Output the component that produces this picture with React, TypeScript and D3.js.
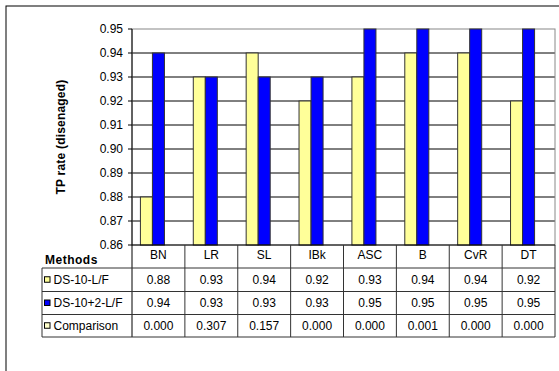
import React from 'react';
import * as d3 from 'd3';

const methods = ['BN', 'LR', 'SL', 'IBk', 'ASC', 'B', 'CvR', 'DT'];
const seriesNames = ['DS-10-L/F', 'DS-10+2-L/F', 'Comparison'];
const ds10 = [0.88, 0.93, 0.94, 0.92, 0.93, 0.94, 0.94, 0.92];
const ds10plus2 = [0.94, 0.93, 0.93, 0.93, 0.95, 0.95, 0.95, 0.95];
const comparison = [0.0, 0.307, 0.157, 0.0, 0.0, 0.001, 0.0, 0.0];
const yTicks = [0.86, 0.87, 0.88, 0.89, 0.9, 0.91, 0.92, 0.93, 0.94, 0.95];

const seriesValues = [ds10, ds10plus2, comparison];
const seriesColors = ['#ffff99', '#0000ff', '#ffffcc'];
const seriesDigits = [2, 2, 3];

const W = 559;
const H = 371;
const font = 'Arial, "Liberation Sans", sans-serif';

const App = () => {
  const left = 132;
  const right = 555;
  const top = 29;
  const bottom = 245;
  const tableLeft = 42;
  const rowEdges = [bottom, 268, 291.5, 314.5, 337];

  const y = d3.scaleLinear().domain([0.86, 0.95]).range([bottom, top]);
  const x = d3.scaleBand().domain(methods).range([left, right]);
  const xs = d3
    .scaleBand()
    .domain(seriesNames)
    .range([0, x.bandwidth()])
    .paddingOuter(0.7);

  return (
    <svg
      width={W}
      height={H}
      style={{ position: 'absolute', left: 0, top: 0, background: '#fff' }}
      fontFamily={font}
    >
      <rect x={6} y={6} width={W + 20} height={H + 20} fill="#fff" stroke="#000" />

      {/* gridlines */}
      {yTicks.slice(1, -1).map(t => (
        <line key={t} x1={left} x2={right} y1={y(t)} y2={y(t)} stroke="#000" />
      ))}
      <rect
        x={left}
        y={y(0.95)}
        width={right - left}
        height={bottom - y(0.95)}
        fill="none"
        stroke="#888"
      />

      {/* bars */}
      {seriesValues.map((vals, si) =>
        vals.map((v, i) =>
          v > 0.86 ? (
            <rect
              key={si + '-' + i}
              x={(x(methods[i]) || 0) + (xs(seriesNames[si]) || 0)}
              y={y(v)}
              width={xs.bandwidth()}
              height={bottom - y(v)}
              fill={seriesColors[si]}
              stroke="#333"
            />
          ) : null
        )
      )}

      {/* axis */}
      <line x1={left} x2={left} y1={top} y2={rowEdges[4]} stroke="#000" />
      <line x1={left} x2={right} y1={bottom} y2={bottom} stroke="#000" />
      {yTicks.map(t => (
        <g key={'t' + t}>
          <line x1={left - 4} x2={left} y1={y(t)} y2={y(t)} stroke="#000" />
          <text
            x={left - 9}
            y={y(t)}
            dy="0.35em"
            textAnchor="end"
            fontSize={12}
          >
            {t.toFixed(2)}
          </text>
        </g>
      ))}
      <text
        transform={`translate(61,${(top + bottom) / 2}) rotate(-90)`}
        textAnchor="middle"
        dy="0.35em"
        fontSize={12}
        fontWeight="bold"
        letterSpacing={0.2}
      >
        TP rate (disenaged)
      </text>

      {/* data table */}
      <text x={45} y={264} fontSize={12} fontWeight="bold" letterSpacing={0.5}>
        Methods
      </text>
      {rowEdges.slice(1).map(r => (
        <line key={'r' + r} x1={tableLeft} x2={right} y1={r} y2={r} stroke="#333" />
      ))}
      <line x1={tableLeft} x2={tableLeft} y1={rowEdges[1]} y2={rowEdges[4]} stroke="#333" />
      {methods.map(m => (
        <line
          key={'c' + m}
          x1={(x(m) || 0) + x.bandwidth()}
          x2={(x(m) || 0) + x.bandwidth()}
          y1={bottom}
          y2={rowEdges[4]}
          stroke="#333"
        />
      ))}
      {methods.map(m => (
        <text
          key={'h' + m}
          x={(x(m) || 0) + x.bandwidth() / 2}
          y={(rowEdges[0] + rowEdges[1]) / 2 - 1.5}
          dy="0.35em"
          textAnchor="middle"
          fontSize={12}
        >
          {m}
        </text>
      ))}
      {seriesValues.map((vals, si) => {
        const cy = (rowEdges[si + 1] + rowEdges[si + 2]) / 2;
        return (
          <g key={'row' + si}>
            <rect
              x={44.5}
              y={cy - 3}
              width={5.5}
              height={5.5}
              fill={seriesColors[si]}
              stroke="#000"
            />
            <text x={53.5} y={cy} dy="0.35em" fontSize={12}>
              {seriesNames[si]}
            </text>
            {vals.map((v, i) => (
              <text
                key={i}
                x={(x(methods[i]) || 0) + x.bandwidth() / 2}
                y={cy}
                dy="0.35em"
                textAnchor="middle"
                fontSize={12}
              >
                {v.toFixed(seriesDigits[si])}
              </text>
            ))}
          </g>
        );
      })}
    </svg>
  );
};

export default App;
